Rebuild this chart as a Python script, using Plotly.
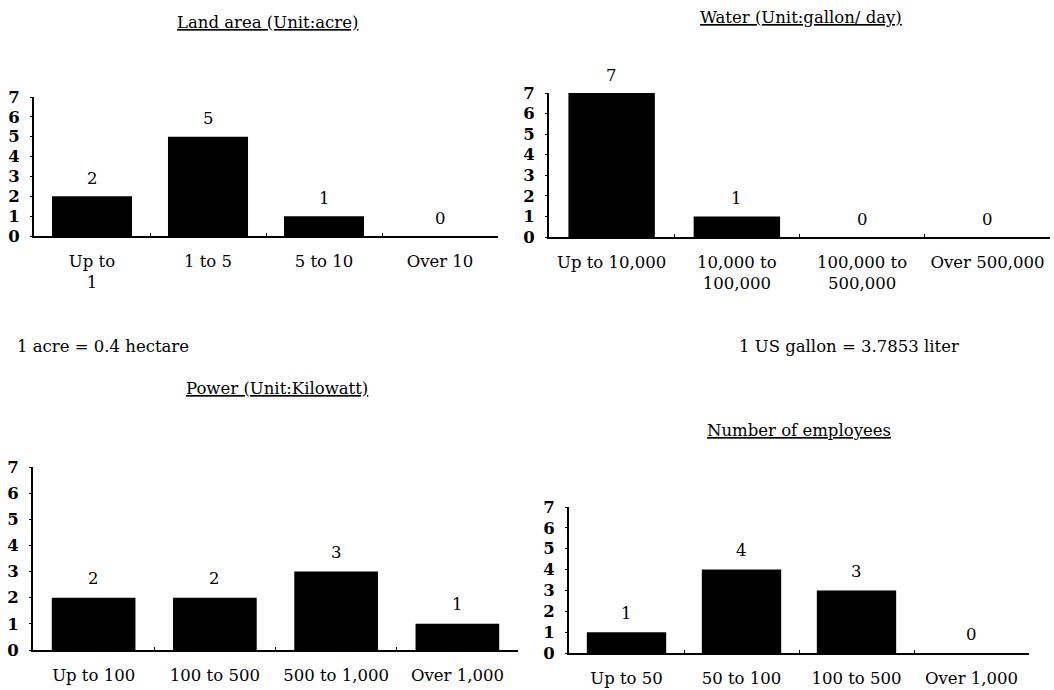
import plotly.graph_objects as go

# ---- data ----
land_cats = ["Up to<br>1", "1 to 5", "5 to 10", "Over 10"]
land_vals = [2, 5, 1, 0]
water_cats = ["Up to 10,000", "10,000 to<br>100,000", "100,000 to<br>500,000", "Over 500,000"]
water_vals = [7, 1, 0, 0]
power_cats = ["Up to 100", "100 to 500", "500 to 1,000", "Over 1,000"]
power_vals = [2, 2, 3, 1]
emp_cats = ["Up to 50", "50 to 100", "100 to 500", "Over 1,000"]
emp_vals = [1, 4, 3, 0]
y_ticks = [0, 1, 2, 3, 4, 5, 6, 7]

titles = ["Land area (Unit:acre)", "Water (Unit:gallon/ day)",
          "Power (Unit:Kilowatt)", "Number of employees"]
notes = ["1 acre = 0.4 hectare", "1 US gallon = 3.7853 liter"]

FONT = "DejaVu Serif"
FS = 16.5
W, H = 1054, 690

panels = [
    (land_cats, land_vals, (34, 498), (236, 97), 18),
    (water_cats, water_vals, (549, 1050), (237, 93), 18),
    (power_cats, power_vals, (33, 518), (650, 467), 19),
    (emp_cats, emp_vals, (569, 1029), (653, 507), 19),
]
title_pos = [(267, 23), (801, 17), (277, 388), (799, 430)]
note_pos = [(103, 346), (849, 346)]

fig = go.Figure()
annotations = []
for i, (cats, vals, (x0, x1), (y0, y1), ysh) in enumerate(panels):
    n = "" if i == 0 else str(i + 1)
    fig.add_trace(go.Bar(x=cats, y=vals, marker=dict(color="black", line=dict(width=0)),
                         xaxis="x" + n, yaxis="y" + n, showlegend=False,
                         hoverinfo="x+y"))
    fig.update_layout(**{
        "xaxis" + n: dict(domain=[x0 / W, x1 / W], anchor="y" + n, type="category",
                          range=[-0.5, 3.5], showline=True, linecolor="black", linewidth=2,
                          ticks="inside", tickson="boundaries", ticklen=3, tickcolor="black",
                          showgrid=False, zeroline=False, automargin=False,
                          tickfont=dict(family=FONT, size=FS, color="black"),
                          ticklabelstandoff=9),
        "yaxis" + n: dict(domain=[1 - y0 / H, 1 - y1 / H], anchor="x" + n,
                          range=[0, 7], tickvals=y_ticks, showline=True, linecolor="black",
                          linewidth=2, ticks="outside", ticklen=2, tickcolor="black",
                          showgrid=False, zeroline=False, automargin=False,
                          tickfont=dict(family=FONT, size=FS, color="black", weight="bold"),
                          ticklabelstandoff=7),
    })
    for c, v in zip(cats, vals):
        annotations.append(dict(x=c, y=v, xref="x" + n, yref="y" + n, text=str(v),
                                showarrow=False, yanchor="middle", yshift=ysh,
                                font=dict(family=FONT, size=FS, color="black")))

for t, (px, py) in zip(titles, title_pos):
    annotations.append(dict(x=px / W, y=1 - py / H, xref="paper", yref="paper", text=t,
                            showarrow=False, xanchor="center", yanchor="middle",
                            font=dict(family=FONT, size=FS, color="black", lineposition="under")))
for t, (px, py) in zip(notes, note_pos):
    annotations.append(dict(x=px / W, y=1 - py / H, xref="paper", yref="paper", text=t,
                            showarrow=False, xanchor="center", yanchor="middle",
                            font=dict(family=FONT, size=FS, color="black")))

fig.update_layout(width=W, height=H, margin=dict(l=0, r=0, t=0, b=0, autoexpand=False),
                  paper_bgcolor="white", plot_bgcolor="white", bargap=0.31,
                  annotations=annotations)

fig.write_html("out.html", config={"displayModeBar": False},
               post_script="document.body.style.margin='0';")
